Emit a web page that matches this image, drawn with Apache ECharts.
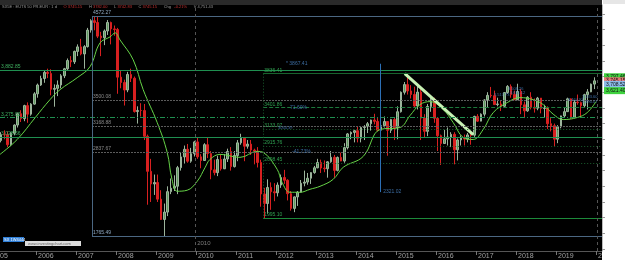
<!DOCTYPE html>
<html>
<head>
<meta charset="utf-8">
<title>SX5E</title>
<script src="https://cdn.jsdelivr.net/npm/echarts@6/dist/echarts.min.js"></script>
<style>
  html, body { margin: 0; padding: 0; background: #000; }
  #chart { width: 625px; height: 260px; }
</style>
</head>
<body>
<div id="chart"></div>
<script>
// monthly candles Feb 2005 .. Dec 2019 : [open, close, low, high]
const ohlc = [
  // 2005
  [2984,3058,2960,3090],[3058,3056,3000,3114],[3056,2930,2900,3100],[2930,3076,2911,3090],
  [3076,3181,3050,3190],[3181,3326,3150,3340],[3326,3263,3220,3370],[3263,3429,3230,3440],
  [3429,3320,3210,3470],[3320,3448,3300,3460],[3448,3579,3440,3600],
  // 2006
  [3579,3692,3530,3710],[3692,3775,3680,3810],[3775,3853,3720,3880],[3853,3839,3780,3900],
  [3839,3637,3560,3892],[3637,3649,3415,3700],[3649,3692,3550,3750],[3692,3809,3650,3830],
  [3809,3899,3780,3910],[3899,4004,3880,4030],[4004,3987,3920,4060],[3987,4120,3960,4130],
  // 2007
  [4120,4178,4060,4210],[4178,4088,4070,4280],[4088,4181,3900,4200],[4181,4392,4170,4420],
  [4392,4512,4360,4530],[4512,4489,4390,4560],[4489,4315,4290,4572],[4315,4294,4060,4370],
  [4294,4381,4200,4400],[4381,4489,4330,4520],[4489,4407,4210,4500],[4407,4400,4320,4450],
  // 2008
  [4400,3792,3580,4420],[3792,3724,3650,3880],[3724,3628,3430,3760],[3628,3826,3600,3860],
  [3826,3778,3730,3900],[3778,3353,3340,3800],[3353,3367,3200,3420],[3367,3366,3290,3460],
  [3366,3038,2990,3450],[3038,2591,2165,3060],[2591,2430,2200,2750],[2430,2448,2290,2550],
  // 2009
  [2448,2236,2200,2550],[2236,1977,1970,2350],[1977,2071,1765,2180],[2071,2332,2020,2400],
  [2332,2376,2300,2500],[2376,2401,2340,2540],[2401,2638,2300,2660],[2638,2775,2600,2830],
  [2775,2872,2690,2920],[2872,2720,2700,2940],[2720,2816,2700,2890],[2816,2966,2780,2980],
  // 2010
  [2966,2776,2750,3020],[2776,2729,2630,2810],[2729,2931,2730,2950],[2931,2817,2760,3020],
  [2817,2610,2490,2850],[2610,2574,2540,2740],[2574,2742,2530,2790],[2742,2623,2600,2800],
  [2623,2748,2630,2810],[2748,2844,2710,2880],[2844,2651,2600,2900],[2651,2793,2640,2850],
  // 2011
  [2793,2954,2720,2990],[2954,3013,2930,3070],[3013,2911,2720,3020],[2911,2938,2880,2990],
  [2938,2862,2800,2990],[2862,2849,2680,2880],[2849,2704,2640,2900],[2704,2302,2140,2740],
  [2302,2180,1995,2380],[2180,2385,2050,2490],[2385,2330,2100,2450],[2330,2317,2210,2440],
  // 2012
  [2317,2416,2270,2450],[2416,2512,2380,2550],[2512,2477,2430,2610],[2477,2306,2220,2490],
  [2306,2118,2090,2340],[2118,2265,2070,2270],[2265,2325,2150,2340],[2325,2440,2320,2480],
  [2440,2454,2400,2600],[2454,2503,2420,2570],[2503,2575,2430,2580],[2575,2636,2560,2660],
  // 2013
  [2636,2703,2630,2750],[2703,2633,2570,2740],[2633,2624,2580,2730],[2624,2712,2510,2720],
  [2712,2770,2700,2850],[2770,2603,2510,2800],[2603,2768,2590,2780],[2768,2722,2720,2830],
  [2722,2893,2700,2950],[2893,3068,2870,3080],[3068,3087,3000,3100],[3087,3109,2960,3120],
  // 2014
  [3109,3014,2960,3160],[3014,3149,2960,3160],[3149,3162,2990,3180],[3162,3198,3080,3220],
  [3198,3245,3110,3250],[3245,3228,3190,3325],[3228,3116,3100,3270],[3116,3173,2970,3180],
  [3173,3226,3150,3290],[3226,3114,2790,3230],[3114,3251,3080,3260],[3251,3146,2990,3280],
  // 2015
  [3146,3351,3000,3420],[3351,3599,3340,3610],[3599,3697,3570,3730],[3697,3616,3570,3836],
  [3616,3571,3520,3690],[3571,3424,3400,3670],[3424,3601,3380,3680],[3601,3270,2990,3640],
  [3270,3101,3020,3320],[3101,3418,3040,3450],[3418,3506,3350,3530],[3506,3268,3210,3530],
  // 2016
  [3268,3045,2850,3280],[3045,2946,2672,3060],[2946,3005,2940,3120],[3005,3028,2920,3150],
  [3028,3063,2900,3090],[3063,2865,2680,3090],[2865,2991,2730,3010],[2991,3023,2920,3050],
  [3023,3002,2920,3060],[3002,3055,2960,3080],[3055,3052,2930,3080],[3052,3291,3030,3300],
  // 2017
  [3291,3231,3220,3320],[3231,3320,3240,3330],[3320,3501,3290,3510],[3501,3560,3400,3600],
  [3560,3555,3530,3667],[3555,3442,3440,3620],[3442,3450,3420,3530],[3450,3421,3360,3490],
  [3421,3595,3410,3600],[3595,3674,3580,3690],[3674,3570,3530,3700],[3570,3504,3500,3620],
  // 2018
  [3504,3609,3500,3708],[3609,3439,3320,3640],[3439,3362,3270,3480],[3362,3536,3350,3550],
  [3536,3407,3380,3600],[3407,3396,3340,3520],[3396,3525,3370,3540],[3525,3393,3330,3520],
  [3393,3399,3280,3440],[3399,3198,3130,3420],[3198,3173,3100,3270],[3173,3001,2909,3200],
  // 2019
  [3001,3159,2950,3180],[3159,3298,3140,3300],[3298,3352,3280,3400],[3352,3515,3350,3530],
  [3515,3280,3260,3520],[3280,3474,3270,3500],[3474,3467,3440,3570],[3467,3427,3280,3480],
  [3427,3569,3400,3580],[3569,3604,3380,3640],[3604,3703,3600,3710],[3703,3745,3640,3790]
];
const firstYear = 2005;
const firstMonth = 2;

// slow moving average as [year, value]
const maPoints = [
  [2005.10,2807],[2005.53,2997],[2005.98,3276],[2006.35,3505],[2006.60,3632],[2007.03,3785],
  [2007.35,3925],[2007.60,4229],[2007.85,4305],[2007.98,4356],[2008.10,4267],[2008.43,4013],
  [2008.68,3632],[2009.03,3213],[2009.28,2832],[2009.40,2489],[2009.53,2337],[2009.78,2350],
  [2010.03,2464],[2010.23,2642],[2010.35,2743],[2010.60,2807],[2011.10,2769],[2011.53,2845],
  [2011.68,2832],[2012.03,2616],[2012.15,2451],[2012.35,2324],[2012.60,2324],[2012.85,2362],
  [2013.10,2400],[2013.43,2489],[2013.68,2642],[2014.18,2781],[2014.60,3124],[2015.10,3150],
  [2015.35,3302],[2015.60,3442],[2015.85,3480],[2016.18,3378],[2016.43,3213],[2016.68,3023],
  [2016.93,2997],[2017.18,3124],[2017.43,3340],[2017.78,3467],[2018.10,3531],[2018.43,3505],
  [2018.68,3442],[2018.93,3320],[2019.18,3251],[2019.53,3277],[2019.78,3340],[2020.00,3480]
];

const trendPoints = [[2015.22, 3836], [2016.93, 3060]];

const yearTicks = [2006,2007,2008,2009,2010,2011,2012,2013,2014,2015,2016,2017,2018,2019,2020];
const priceTicks = [1600,1800,2000,2200,2400,2600,2800,3000,3200,3400,3600,3800,4000,4200,4400,4600];

const xMin = 2005.1, xMax = 2020.15;
const yMin = 1575, yMax = 4712;

// retracement A: 2007 top to 2009 low
const fibAStart = 2007.4;
const fibAEdges = [4572.27, 1765.49];
const fibALevels = [3500.08, 3168.88, 2837.67];

// retracement B: 2011 low to 2015 top
const fibBStart = 2011.68;
const fibBEdges = [3836.41, 1995.10];
const fibBLevels = [3401.86, 3133.07, 2915.76, 2698.45];

// full width horizontal tools
const hSolid = [3882.85, 3028.56];
const hDashDot = [3275.02];

const measureLine = [2014.6, 3963, 2326];
const dashedDates = [2009.98, 2020.03];

const notes = [
  [2010.03, 1677, '2010', '#9a9a9a', 6],
  [2012.25, 3963, '* 3867.41', '#4a86c8', 5],
  [2012.35, 3404, '71.60%', '#4a86c8', 5],
  [2012.40, 2845, '-41.73%', '#4a86c8', 5],
  [2012.05, 3140, '3064.39', '#4a86c8', 4],
  [2014.68, 2326, '2321.02', '#4a86c8', 5],
  [2017.45, 3560, '3,517.73', '#4a86c8', 4],
  [2017.80, 3640, '3,508.26', '#4a86c8', 4],
  [2017.85, 3585, '3,611.12', '#4a86c8', 4],
  [2019.30, 3505, '3,464.93', '#4a86c8', 4],
  [2019.65, 3540, '3,533.60', '#4a86c8', 4],
  [2019.65, 3480, '3,490.07', '#4a86c8', 4]
];

const priceTags = [
  [3797, '3,797.46', '#3fd23f'],
  [3745, '3,745.15', '#e87878'],
  [3700, '3,708.52', '#8bbbe8'],
  [3620, '3,621.40', '#3fd23f']
];

const candleData = ohlc.map((r, i) => [firstYear + (firstMonth - 1 + i + 0.5) / 12, ...r]);

function hLine(x1, x2, v, color, type, text, labelColor) {
  return [
    {
      coord: [x1, v],
      lineStyle: { color, type, width: 1 },
      label: text ? { show: true, formatter: text, color: labelColor } : { show: false }
    },
    { coord: [x2, v] }
  ];
}
function vLine(x, v1, v2, color, type) {
  return [
    { coord: [x, v1], lineStyle: { color, type, width: 1 }, label: { show: false } },
    { coord: [x, v2] }
  ];
}
const fmt = v => v.toLocaleString('en-US', { minimumFractionDigits: 2 });

const levelLines = [];
hSolid.forEach(v => levelLines.push(hLine(xMin, xMax, v, '#1f8f50', 'solid', fmt(v), '#3fb060')));
hDashDot.forEach(v => levelLines.push(hLine(xMin, xMax, v, '#1f8f50', [5, 2, 1, 2], fmt(v), '#3fb060')));
fibAEdges.forEach(v => levelLines.push(hLine(fibAStart, xMax, v, '#4b6782', 'solid', v.toFixed(2), '#8fa8c0')));
fibALevels.forEach(v => levelLines.push(hLine(fibAStart, xMax, v, '#5c5c5c', [2, 1], v.toFixed(2), '#8a8a8a')));
levelLines.push(vLine(fibAStart, fibAEdges[0], fibAEdges[1], '#4b6782', 'solid'));
levelLines.push(hLine(fibBStart, xMax, fibBEdges[0], '#17632d', 'solid', fibBEdges[0].toFixed(2), '#2fa050'));
levelLines.push(hLine(fibBStart, xMax, fibBEdges[1], '#1c8a3a', 'solid', fibBEdges[1].toFixed(2), '#2fa050'));
fibBLevels.forEach((v, i) => levelLines.push(hLine(fibBStart, xMax, v, i === 0 ? '#1d7a3c' : '#1a5e2e', i === 0 ? [4, 2] : [1, 2], v.toFixed(2), '#2fa050')));
levelLines.push(vLine(fibBStart, fibBEdges[0], fibBEdges[1], '#1a5e2e', [1, 2]));
levelLines.push(vLine(measureLine[0], measureLine[1], measureLine[2], '#2c6fb5', 'solid'));
dashedDates.forEach(d => levelLines.push({ xAxis: d, lineStyle: { color: '#555', type: [3, 3], width: 1 }, label: { show: false } }));

// price tags sit in the white scale panel, after the end of an invisible level line
const tagLines = priceTags.map(([v, text, bg]) => ({
  yAxis: v,
  lineStyle: { color: 'rgba(0,0,0,0)', width: 1 },
  label: {
    show: true, position: 'end', distance: 2, formatter: text,
    backgroundColor: bg, color: '#111', fontSize: 5, padding: [1, 2]
  }
}));

const chart = echarts.init(document.getElementById('chart'), null, { renderer: 'canvas' });

chart.setOption({
  animation: false,
  backgroundColor: '#000',
  textStyle: { fontFamily: 'Liberation Sans' },
  grid: { left: 0, right: 23, top: 5, bottom: 8 },
  xAxis: {
    type: 'value', min: xMin, max: xMax, z: 0,
    splitLine: { show: false },
    axisLine: { lineStyle: { color: '#555' } },
    axisTick: { show: true, customValues: yearTicks, length: 4, lineStyle: { color: '#777' } },
    axisLabel: {
      customValues: yearTicks, formatter: v => String(v), color: '#a0a0a0',
      fontSize: 7, align: 'left', margin: 2, padding: [0, 0, 0, 2]
    }
  },
  yAxis: {
    type: 'value', min: yMin, max: yMax, position: 'right', z: 3,
    splitLine: { show: false },
    axisLine: { show: true, lineStyle: { color: '#bbb' } },
    axisTick: { show: true, customValues: priceTicks, length: 3, lineStyle: { color: '#999' } },
    axisLabel: { show: false }
  },
  graphic: [
    { type: 'rect', z: 1, shape: { x: 602, y: 0, width: 23, height: 260 }, style: { fill: '#fff' } },
    { type: 'rect', z: 2, shape: { x: 603, y: 0, width: 22, height: 4 }, style: { fill: '#e6e6e6' } },
    { type: 'rect', z: 10, shape: { x: 0, y: 0, width: 602, height: 5 }, style: { fill: '#2a2a2a' } },
    {
      type: 'text', z: 11, x: 2, y: 0.5,
      style: {
        text: '{g|SX5E : EUTS 50 PR.EUR : 1 d}  {r|O 3745.15}  {g|H}{r| 3782.00}  {g|L}{r| 3742.83}  {g|C}{r| 3745.15}  {g|Chg} {r|-0.21%}  {g|V 4,751.43}',
        rich: { g: { fill: '#999', fontSize: 4 }, r: { fill: '#c83232', fontSize: 4 } }
      }
    },
    { type: 'text', z: 11, x: 0, y: 253, style: { text: '05', fill: '#a0a0a0', fontSize: 7 } },
    { type: 'rect', z: 11, shape: { x: 3, y: 237, width: 21, height: 5 }, style: { fill: '#2f7fd8' } },
    { type: 'text', z: 12, x: 4, y: 237.5, style: { text: 'SX 1W4444', fill: '#fff', fontSize: 4 } },
    { type: 'rect', z: 11, shape: { x: 25, y: 241, width: 56, height: 5 }, style: { fill: '#dcdcdc' } },
    { type: 'text', z: 12, x: 28, y: 241.5, style: { text: 'www.investingchart.com', fill: '#666', fontSize: 4 } }
  ],
  series: [
    {
      name: 'SX5E',
      type: 'candlestick',
      data: candleData,
      encode: { x: 0, y: [1, 2, 3, 4] },
      barWidth: 2,
      itemStyle: {
        color: '#5f9a5f', color0: '#d82020',
        borderColor: '#9cb49c', borderColor0: '#d82020', borderWidth: 1
      }
    },
    {
      name: 'MA',
      type: 'line',
      data: maPoints,
      smooth: 0.4,
      symbol: 'none',
      lineStyle: { color: '#66d447', width: 1 }
    },
    {
      name: 'trend',
      type: 'line',
      data: trendPoints,
      symbol: 'none',
      lineStyle: { color: '#c8f2b4', width: 3 },
      markLine: {
        silent: true, symbol: ['none', 'none'], animation: false,
        label: { show: true, position: 'insideStartTop', distance: 1, fontSize: 5 },
        data: levelLines
      }
    },
    {
      name: 'notes',
      type: 'scatter',
      symbolSize: 0,
      silent: true,
      clip: false,
      z: 5,
      data: notes.map(([x, y, text, color, size]) => ({
        value: [x, y],
        label: { show: true, position: 'right', distance: 0, formatter: text, color, fontSize: size }
      })),
      markLine: { silent: true, z: 20, symbol: ['none', 'none'], animation: false, data: tagLines }
    }
  ]
});
</script>
</body>
</html>
